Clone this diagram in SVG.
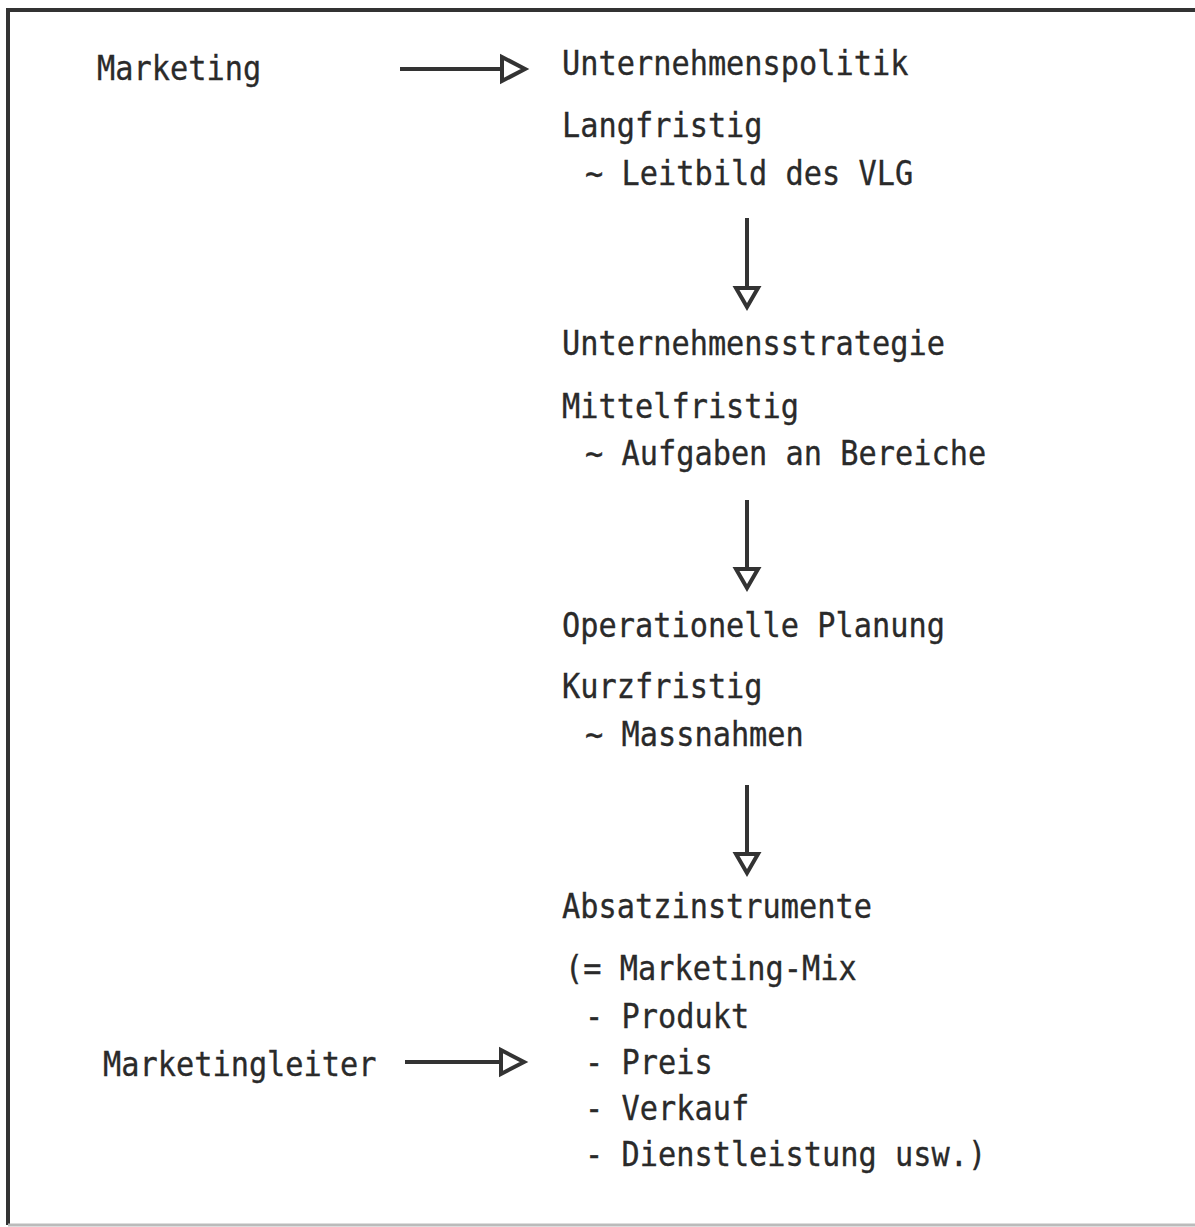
<svg xmlns="http://www.w3.org/2000/svg" width="1195" height="1227" viewBox="0 0 1195 1227">
<style>
text{font-family:"DejaVu Sans Mono","Liberation Mono",monospace;font-size:30.3px;fill:#2a2a2a;stroke:#2a2a2a;stroke-width:0.3}
.ln{stroke:#333;stroke-width:4;fill:none}
.hd{stroke:#333;stroke-width:4;fill:#fff;stroke-linejoin:miter}
</style>
<rect x="0" y="0" width="1195" height="1227" fill="#fff"/>
<path class="ln" d="M1200,10 H8 V1225" stroke-width="3.5"/>
<path d="M8,1225 H1200" stroke="#bbb" stroke-width="3" fill="none"/>
<g id="n-marketing"><text transform="translate(97,80) scale(1,1.12)">Marketing</text></g>
<g id="n-politik">
<text transform="translate(562,75) scale(1,1.12)">Unternehmenspolitik</text>
<text transform="translate(562,137) scale(1,1.12)">Langfristig</text>
<text transform="translate(585,185) scale(1,1.12)">~ Leitbild des VLG</text>
</g>
<g id="n-strategie">
<text transform="translate(562,355) scale(1,1.12)">Unternehmensstrategie</text>
<text transform="translate(562,418) scale(1,1.12)">Mittelfristig</text>
<text transform="translate(585,465) scale(1,1.12)">~ Aufgaben an Bereiche</text>
</g>
<g id="n-planung">
<text transform="translate(562,637) scale(1,1.12)">Operationelle Planung</text>
<text transform="translate(562,698) scale(1,1.12)">Kurzfristig</text>
<text transform="translate(585,746) scale(1,1.12)">~ Massnahmen</text>
</g>
<g id="n-absatz">
<text transform="translate(562,918) scale(1,1.12)">Absatzinstrumente</text>
<text transform="translate(565,980) scale(1,1.12)">(= Marketing-Mix</text>
<text transform="translate(585,1028) scale(1,1.12)">- Produkt</text>
<text transform="translate(585,1074) scale(1,1.12)">- Preis</text>
<text transform="translate(585,1120) scale(1,1.12)">- Verkauf</text>
<text transform="translate(585,1166) scale(1,1.12)">- Dienstleistung usw.)</text>
</g>
<g id="n-leiter"><text transform="translate(103,1076) scale(1,1.12)">Marketingleiter</text></g>
<g id="connectors">
<line class="ln" x1="400" y1="69" x2="502" y2="69"/>
<polygon class="hd" points="502,57 525,69 502,81"/>
<line class="ln" x1="405" y1="1062" x2="501" y2="1062"/>
<polygon class="hd" points="501,1050 524,1062 501,1074"/>
<line class="ln" x1="747" y1="218" x2="747" y2="288"/>
<polygon class="hd" points="736,288 758,288 747,307"/>
<line class="ln" x1="747" y1="500" x2="747" y2="569"/>
<polygon class="hd" points="736,569 758,569 747,588"/>
<line class="ln" x1="747" y1="785" x2="747" y2="854"/>
<polygon class="hd" points="736,854 758,854 747,873"/>
</g>
</svg>
